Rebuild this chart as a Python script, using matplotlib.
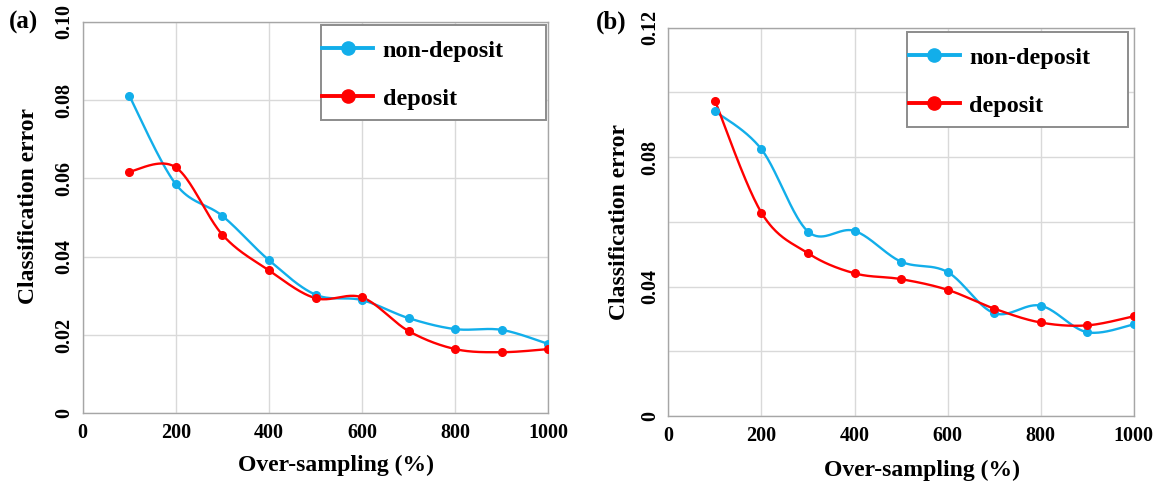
import numpy as np
import matplotlib
matplotlib.use("Agg")
import matplotlib.pyplot as plt
from matplotlib.patches import Rectangle
from matplotlib.ticker import MultipleLocator, FixedLocator, FuncFormatter

# Over-sampling rates (%)
oversampling = [100, 200, 300, 400, 500, 600, 700, 800, 900, 1000]

# Panel (a): classification error
nondeposit_a = [0.0811, 0.0585, 0.0504, 0.0391, 0.0303, 0.0289, 0.0243, 0.0215, 0.0213, 0.0177]
deposit_a = [0.0617, 0.0628, 0.0456, 0.0365, 0.0294, 0.0296, 0.0210, 0.0164, 0.0156, 0.0164]

# Panel (b): classification error
nondeposit_b = [0.0942, 0.0824, 0.0570, 0.0572, 0.0477, 0.0445, 0.0318, 0.0341, 0.0259, 0.0283]
deposit_b = [0.0974, 0.0628, 0.0503, 0.0441, 0.0423, 0.0390, 0.0332, 0.0289, 0.0280, 0.0308]

series_labels = ["non-deposit", "deposit"]
panel_tags = ["(a)", "(b)"]
x_ticks = [0, 200, 400, 600, 800, 1000]
y_ticks_a = [0, 0.02, 0.04, 0.06, 0.08, 0.10]
y_ticks_b = [0, 0.04, 0.08, 0.12]

BLUE = "#12AEEA"
RED = "#FF0000"
GRID = "#D9D9D9"
SPINE = "#A6A6A6"
SERIF = ["Liberation Serif", "DejaVu Serif"]

plt.rcParams["font.family"] = SERIF
plt.rcParams["font.weight"] = "bold"


def smooth(x, y, n=40):
    """Cardinal (Catmull-Rom style) Bezier smoothing through every point."""
    p = np.column_stack([np.asarray(x, float), np.asarray(y, float)])
    ext = np.vstack([p[0], p, p[-1]])
    t = np.linspace(0, 1, n)[:, None]
    out = []
    for i in range(len(p) - 1):
        p0, p1, p2, p3 = ext[i], ext[i + 1], ext[i + 2], ext[i + 3]
        c1 = p1 + (p2 - p0) / 6.0
        c2 = p2 - (p3 - p1) / 6.0
        seg = ((1 - t) ** 3) * p1 + 3 * ((1 - t) ** 2) * t * c1 + 3 * (1 - t) * t ** 2 * c2 + t ** 3 * p2
        out.append(seg if i == 0 else seg[1:])
    s = np.vstack(out)
    return s[:, 0], s[:, 1]


def fmt_y(v, pos):
    if abs(v) < 1e-12:
        return "0"
    return f"{v:.2f}"


fig = plt.figure(figsize=(11.63, 4.84), dpi=100)
W, H = 1163, 484

axes_px = [
    (82.7, 21.7, 548.3, 413.3),
    (668.5, 27.7, 1133.5, 416.0),
]

panels = [
    (nondeposit_a, deposit_a, 0.10, y_ticks_a, 0.02),
    (nondeposit_b, deposit_b, 0.12, y_ticks_b, 0.02),
]

# legend frame box (x0, y0, x1, y1) and top-left of the first entry
legend_px = [
    (320.7, 25.0, 545.7, 120.0),
    (907.0, 32.0, 1128.0, 127.0),
]
legend_anchor_px = [(322.0, 39.5), (908.5, 46.5)]
ylabel_px = [(29.0, 206.0), (619.5, 222.0)]
xlabel_px = [(336.0, 465.0), (922.0, 470.0)]
tag_px = [(23.0, 22.0), (611.0, 22.0)]

for k, ((l, t, r, b), (nd, dp, ymax, yt, ygrid)) in enumerate(zip(axes_px, panels)):
    ax = fig.add_axes([l / W, 1 - b / H, (r - l) / W, (b - t) / H])
    ax.set_xlim(0, 1000)
    ax.set_ylim(0, ymax)

    def to_axes(px, py):
        return (px - l) / (r - l), (b - py) / (b - t)

    ax.xaxis.set_major_locator(FixedLocator(x_ticks))
    ax.yaxis.set_major_locator(FixedLocator(yt))
    ax.yaxis.set_minor_locator(MultipleLocator(ygrid))
    ax.yaxis.set_major_formatter(FuncFormatter(fmt_y))
    ax.grid(True, which="both", axis="y", color=GRID, lw=1.0, zorder=0)
    ax.grid(True, which="major", axis="x", color=GRID, lw=1.0, zorder=0)
    ax.set_axisbelow(True)
    for sp in ax.spines.values():
        sp.set_color(SPINE)
        sp.set_linewidth(1.0)

    ax.tick_params(axis="both", which="both", length=0)
    ax.tick_params(axis="x", pad=7, labelsize=14.5)
    ax.tick_params(axis="y", pad=6, labelsize=14.5)
    for lab in ax.get_yticklabels():
        lab.set_rotation(90)
        lab.set_va("center")
        lab.set_fontweight("bold")
    for lab in ax.get_xticklabels():
        lab.set_fontweight("bold")

    for vals, color, name in [(nd, BLUE, series_labels[0]), (dp, RED, series_labels[1])]:
        sx, sy = smooth(oversampling, vals)
        ax.plot(sx, sy, color=color, lw=1.7, zorder=3)
        ax.plot(oversampling, vals, linestyle="none", marker="o", ms=5.5,
                color=color, zorder=4)
        ax.plot([], [], color=color, lw=2.8, marker="o", ms=9.5, label=name)

    # legend frame
    lx0, ly0, lx1, ly1 = legend_px[k]
    fx0, fy1 = to_axes(lx0, ly0)
    fx1, fy0 = to_axes(lx1, ly1)
    ax.add_patch(Rectangle((fx0, fy0), fx1 - fx0, fy1 - fy0, transform=ax.transAxes,
                           facecolor="white", edgecolor="#8C8C8C", lw=1.4,
                           zorder=6, clip_on=False))
    ax_, ay_ = to_axes(*legend_anchor_px[k])
    leg = ax.legend(loc="upper left", bbox_to_anchor=(ax_, ay_),
                    prop={"family": SERIF, "weight": "bold", "size": 17.5},
                    frameon=False, borderaxespad=0.0, borderpad=0.0,
                    labelspacing=1.08, handlelength=2.1, handletextpad=0.4)
    leg.set_zorder(7)

    ax.set_ylabel("Classification error", fontsize=17, fontweight="bold")
    ax.set_xlabel("Over-sampling (%)", fontsize=17, fontweight="bold")
    yx, yy = ylabel_px[k]
    ax.yaxis.set_label_coords(*to_axes(yx, yy))
    ax.yaxis.label.set_va("center")
    xx, xy = xlabel_px[k]
    ax.xaxis.set_label_coords(*to_axes(xx, xy))
    ax.xaxis.label.set_va("center")

    tx, ty = tag_px[k]
    fig.text(tx / W, 1 - ty / H, panel_tags[k], ha="center", va="center",
             fontsize=18, fontweight="bold")

fig.savefig("out.png", dpi=100)
